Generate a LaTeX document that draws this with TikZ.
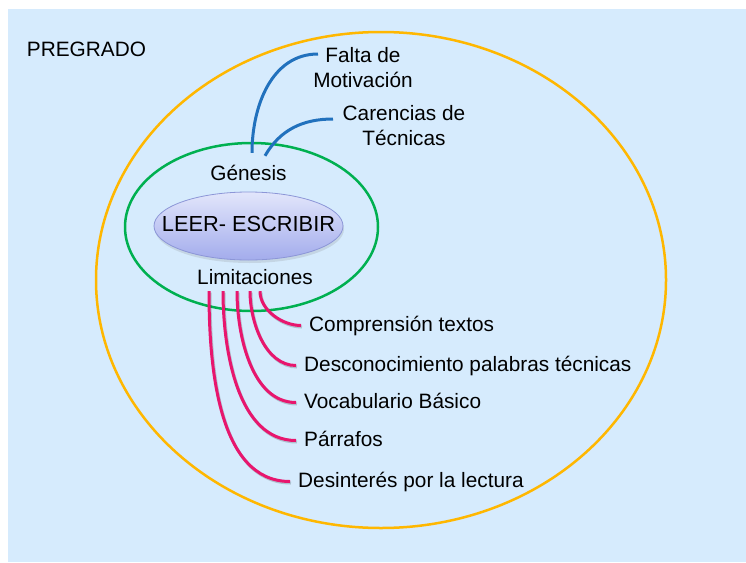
\documentclass[tikz,border=0pt]{standalone}
\usepackage{fontspec}
\setmainfont{Liberation Sans}
\usetikzlibrary{shapes.geometric, shadows, positioning}

\definecolor{bgblue}{RGB}{214,235,253}
\definecolor{ringorange}{RGB}{255,183,0}
\definecolor{ringgreen}{RGB}{0,176,80}
\definecolor{linkblue}{RGB}{33,113,189}
\definecolor{linkpink}{RGB}{232,22,110}
\definecolor{coretop}{RGB}{226,230,251}
\definecolor{corebot}{RGB}{163,172,236}
\definecolor{coreedge}{RGB}{140,150,215}

\begin{document}
\begin{tikzpicture}[
    x=1pt, y=-1pt,
    tag/.style={font=\fontsize{20.8}{25}\selectfont, inner sep=3pt, text height=15pt, text depth=4pt},
    tagml/.style={font=\fontsize{20.8}{25}\selectfont, align=center, inner sep=3pt},
    leaf/.style={tag, anchor=west, inner xsep=8pt},
    ring/.style={ellipse, draw, line width=2.5pt, inner sep=0pt},
    core/.style={ellipse, draw=coreedge, line width=0.8pt, top color=coretop, bottom color=corebot, minimum width=189pt, minimum height=68pt, inner sep=0pt, drop shadow={opacity=0.2, shadow xshift=1pt, shadow yshift=-3pt}},
    branch/.style={draw=linkblue, line width=3pt},
    twig/.style={draw=linkpink, line width=3pt, looseness=0.9, preaction={draw=black, opacity=0.18, line width=3pt, transform canvas={xshift=1pt, yshift=-1.5pt}}},
]
    \useasboundingbox (0,0) rectangle (746,562);
    \fill[bgblue] (8,9) rectangle (746,562);

    \node[ring, draw=ringorange, minimum width=570pt, minimum height=496pt] (pregradoRing) at (381,280) {};
    \node[ring, draw=ringgreen, minimum width=253pt, minimum height=168pt] (mainRing) at (251.5,227) {};
    \node[core] (core) at (248.5,226) {};
    \node[tag, font=\fontsize{21.8}{26}\selectfont] (coreText) at (core.center) {LEER- ESCRIBIR};

    \node[tag] (pregrado) at (86.5,50.5) {PREGRADO};
    \node[tag] (genesis) at (248.5,174.5) {Génesis};
    \node[tag] (limit) at (255,278.5) {Limitaciones};

    % genesis side
    \node[tagml] (falta) at (363,68) {Falta de\\Motivación};
    \node[tagml] (caren) at (404,126) {Carencias de\\Técnicas};
    \coordinate (faltaIn) at (318,54);
    \coordinate (carenIn) at (333,119);

    \draw[branch] ([xshift=3.5pt,yshift=9pt]genesis.north) to[out=90,in=180] (faltaIn);
    \draw[branch] ([xshift=16.5pt,yshift=6pt]genesis.north) to[out=60,in=180] (carenIn);

    % limitaciones side
    \node[leaf] (comp) at (301,325.5) {Comprensión textos};
    \node[leaf] (desc) at (296,365.5) {Desconocimiento palabras técnicas};
    \node[leaf] (voca) at (296,402.5) {Vocabulario Básico};
    \node[leaf] (parr) at (296,440.5) {Párrafos};
    \node[leaf] (desi) at (290,481.5) {Desinterés por la lectura};

    \draw[twig] ([xshift=5pt]limit.south) to[out=-90,in=180] (comp.west);
    \draw[twig] ([xshift=-5pt]limit.south) to[out=-90,in=180] (desc.west);
    \draw[twig] ([xshift=-18pt]limit.south) to[out=-90,in=180] (voca.west);
    \draw[twig] ([xshift=-32pt]limit.south) to[out=-90,in=180] (parr.west);
    \draw[twig] ([xshift=-46pt]limit.south) to[out=-90,in=180] (desi.west);
\end{tikzpicture}
\end{document}
